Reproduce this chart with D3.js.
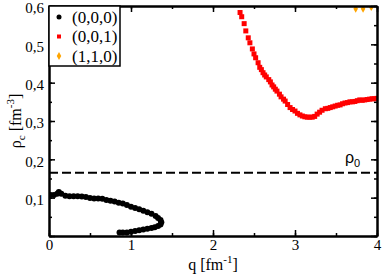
<!DOCTYPE html>
<head>
    <meta charset="utf-8">
    <style>
        body {
            margin: 0;
            padding: 0;
            background: #fff;
        }
        svg {
            display: block;
        }
        svg text {
            font-family: "Liberation Serif", serif;
        }
        .tick text {
            font-size: 15px;
            fill: #000;
        }
        .axis .domain {
            stroke: #000;
            stroke-width: 2;
        }
        .axis line {
            stroke: #000;
            stroke-width: 1.5;
        }
        .label {
            font-size: 16px;
        }
        .legend text {
            font-size: 17px;
        }
        svg text.sans {
            font-family: "Liberation Sans", sans-serif;
        }
    </style>
    <script src="https://d3js.org/d3.v7.min.js"></script>
</head>
<body>
    <svg width="382" height="275"></svg>
    <script>
        // data
        var qBlack = [0.02, 0.06, 0.1, 0.12, 0.15, 0.2, 0.25, 0.3, 0.35, 0.4, 0.45, 0.5, 0.55, 0.6, 0.65,
            0.7, 0.75, 0.8, 0.85, 0.9, 0.95, 1.0, 1.05, 1.1, 1.15, 1.2, 1.25, 1.3, 1.33, 1.36, 1.37,
            1.36, 1.33, 1.29, 1.25, 1.2, 1.15, 1.1, 1.05, 1.0, 0.95, 0.9, 0.86];
        var rhoBlack = [0.107, 0.107, 0.11, 0.115, 0.11, 0.105, 0.104, 0.104, 0.104, 0.103, 0.102, 0.099, 0.098, 0.098, 0.097,
            0.094, 0.092, 0.09, 0.087, 0.085, 0.081, 0.076, 0.073, 0.07, 0.066, 0.062, 0.058, 0.052, 0.047, 0.042, 0.036,
            0.03, 0.026, 0.023, 0.021, 0.019, 0.017, 0.015, 0.013, 0.011, 0.009, 0.009, 0.009];

        var qRed = [2.33, 2.35, 2.38, 2.40, 2.43, 2.45, 2.48, 2.50, 2.52, 2.55, 2.57, 2.59, 2.61, 2.63, 2.65,
            2.68, 2.70, 2.72, 2.74, 2.76, 2.78, 2.81, 2.83, 2.86, 2.88, 2.91, 2.94, 2.97, 3.00, 3.03,
            3.06, 3.09, 3.12, 3.15, 3.18, 3.21, 3.24, 3.27, 3.30, 3.33, 3.37, 3.40, 3.43, 3.46, 3.49,
            3.52, 3.55, 3.58, 3.61, 3.64, 3.67, 3.70, 3.73, 3.76, 3.79, 3.82, 3.85, 3.88, 3.91, 3.94, 3.97, 4.00];
        var rhoRed = [0.583, 0.572, 0.554, 0.535, 0.517, 0.504, 0.488, 0.475, 0.465, 0.452, 0.440, 0.434, 0.426, 0.420, 0.415,
            0.408, 0.402, 0.394, 0.389, 0.383, 0.378, 0.370, 0.363, 0.357, 0.352, 0.343, 0.335, 0.330, 0.326, 0.320,
            0.316, 0.313, 0.311, 0.310, 0.310, 0.310, 0.312, 0.318, 0.323, 0.328, 0.332, 0.333, 0.335, 0.337, 0.339,
            0.341, 0.342, 0.345, 0.347, 0.348, 0.350, 0.350, 0.351, 0.353, 0.355, 0.354, 0.355, 0.356, 0.357, 0.358, 0.358, 0.359];

        var qOrange = [3.74, 3.83, 3.93];
        var rhoOrange = [0.593, 0.593, 0.597];

        var rho0 = 0.165;
        var xTicks = [0, 1, 2, 3, 4];
        var yTicks = [0, 0.1, 0.2, 0.3, 0.4, 0.5, 0.6];
        var seriesNames = ["(0,0,0)", "(0,0,1)", "(1,1,0)"];
        var seriesColors = ["#000", "#ff0000", "#ffa500"];

        var svg = d3.select("svg");
        var pLeft = 49, pRight = 377, pTop = 6, pBottom = 236;

        var x = d3.scaleLinear().domain([0, 4]).range([pLeft, pRight]);
        var y = d3.scaleLinear().domain([0, 0.6]).range([pBottom, pTop]);

        function fmt(d) {
            return d3.format(".1f")(d).replace(".", ",");
        }

        svg.append("defs").append("clipPath").attr("id", "clip")
            .append("rect")
            .attr("x", pLeft).attr("y", pTop)
            .attr("width", pRight - pLeft).attr("height", pBottom - pTop);

        var plot = svg.append("g").attr("clip-path", "url(#clip)");

        // rho_0 dashed line
        plot.append("line")
            .attr("x1", x(0)).attr("x2", x(4))
            .attr("y1", y(rho0)).attr("y2", y(rho0))
            .attr("stroke", "#000")
            .attr("stroke-width", 2)
            .attr("stroke-dasharray", "9,4");

        // black circles
        plot.append("g").selectAll("circle")
            .data(d3.range(qBlack.length))
            .enter().append("circle")
                .attr("cx", function (i) { return x(qBlack[i]); })
                .attr("cy", function (i) { return y(rhoBlack[i]); })
                .attr("r", 3)
                .attr("fill", seriesColors[0]);

        // red squares
        plot.append("g").selectAll("rect")
            .data(d3.range(qRed.length))
            .enter().append("rect")
                .attr("x", function (i) { return x(qRed[i]) - 2.5; })
                .attr("y", function (i) { return y(rhoRed[i]) - 2.5; })
                .attr("width", 5)
                .attr("height", 5)
                .attr("fill", seriesColors[1]);

        // orange diamonds
        var diamond = d3.symbol().type(d3.symbolDiamond).size(18);
        plot.append("g").selectAll("path")
            .data(d3.range(qOrange.length))
            .enter().append("path")
                .attr("d", diamond)
                .attr("transform", function (i) { return "translate(" + x(qOrange[i]) + "," + y(rhoOrange[i]) + ")"; })
                .attr("fill", seriesColors[2]);

        // axes: major + minor ticks on all four sides, pointing inward
        var xMinor = d3.range(0, 4.01, 0.5), yMinor = d3.range(0, 0.601, 0.05);

        svg.append("g").attr("class", "axis")
            .attr("transform", "translate(0," + pBottom + ")")
            .call(d3.axisBottom(x).tickValues(xMinor).tickSize(-3).tickSizeOuter(0).tickFormat(""));
        svg.append("g").attr("class", "axis")
            .attr("transform", "translate(0," + pBottom + ")")
            .call(d3.axisBottom(x).tickValues(xTicks).tickSize(-6).tickSizeOuter(0).tickPadding(3).tickFormat(d3.format("d")));
        svg.append("g").attr("class", "axis")
            .attr("transform", "translate(0," + pTop + ")")
            .call(d3.axisTop(x).tickValues(xMinor).tickSize(-3).tickSizeOuter(0).tickFormat(""));
        svg.append("g").attr("class", "axis")
            .attr("transform", "translate(0," + pTop + ")")
            .call(d3.axisTop(x).tickValues(xTicks).tickSize(-6).tickSizeOuter(0).tickFormat(""));

        svg.append("g").attr("class", "axis")
            .attr("transform", "translate(" + pLeft + ",0)")
            .call(d3.axisLeft(y).tickValues(yMinor).tickSize(-3).tickSizeOuter(0).tickFormat(""));
        svg.append("g").attr("class", "axis yLabels")
            .attr("transform", "translate(" + pLeft + ",0)")
            .call(d3.axisLeft(y).tickValues(yTicks).tickSize(-6).tickSizeOuter(0).tickPadding(5)
                .tickFormat(function (d) { return d === 0 ? "" : fmt(d); }));
        // nudge labels down a little so the top one is not cut
        svg.selectAll(".yLabels .tick text").attr("dy", "0.45em");
        svg.append("g").attr("class", "axis")
            .attr("transform", "translate(" + pRight + ",0)")
            .call(d3.axisRight(y).tickValues(yMinor).tickSize(-3).tickSizeOuter(0).tickFormat(""));
        svg.append("g").attr("class", "axis")
            .attr("transform", "translate(" + pRight + ",0)")
            .call(d3.axisRight(y).tickValues(yTicks).tickSize(-6).tickSizeOuter(0).tickFormat(""));

        // axis labels
        var xl = svg.append("text").attr("class", "label")
            .attr("x", x(2)).attr("y", 270)
            .attr("text-anchor", "middle");
        xl.append("tspan").text("q [fm");
        xl.append("tspan").attr("dy", -7).attr("font-size", 11).text("-1");
        xl.append("tspan").attr("dy", 7).text("]");

        var yl = svg.append("text").attr("class", "label")
            .attr("transform", "translate(21," + (pTop + pBottom) / 2 + ") rotate(-90)")
            .attr("text-anchor", "middle");
        yl.append("tspan").text("ρ");
        yl.append("tspan").attr("dy", 4).attr("font-size", 11).text("c");
        yl.append("tspan").attr("dy", -4).text(" [fm");
        yl.append("tspan").attr("dy", -7).attr("font-size", 11).text("-3");
        yl.append("tspan").attr("dy", 7).text("]");

        // rho_0 label
        var r0 = svg.append("text").attr("class", "sans")
            .attr("x", 345).attr("y", 163)
            .attr("font-size", 16);
        r0.append("tspan").text("ρ");
        r0.append("tspan").attr("dy", 4).attr("font-size", 11).text("0");

        // legend
        var legend = svg.append("g").attr("class", "legend");
        legend.append("rect")
            .attr("x", pLeft).attr("y", pTop)
            .attr("width", 71).attr("height", 60)
            .attr("fill", "#fff")
            .attr("stroke", "#000")
            .attr("stroke-width", 1.5);
        var entries = legend.selectAll(".entry")
            .data(seriesNames)
            .enter().append("g")
                .attr("class", "entry")
                .attr("transform", function (d, i) { return "translate(59," + (17 + i * 19.5) + ")"; });
        entries.each(function (d, i) {
            var g = d3.select(this);
            if (i === 0) g.append("circle").attr("r", 2.5).attr("fill", seriesColors[0]);
            if (i === 1) g.append("rect").attr("x", -2).attr("y", -2).attr("width", 4).attr("height", 4).attr("fill", seriesColors[1]);
            if (i === 2) g.append("path").attr("d", diamond).attr("fill", seriesColors[2]);
        });
        entries.append("text")
            .attr("x", 13).attr("dy", "0.33em")
            .text(function (d) { return d; });
    </script>
</body>
</html>
